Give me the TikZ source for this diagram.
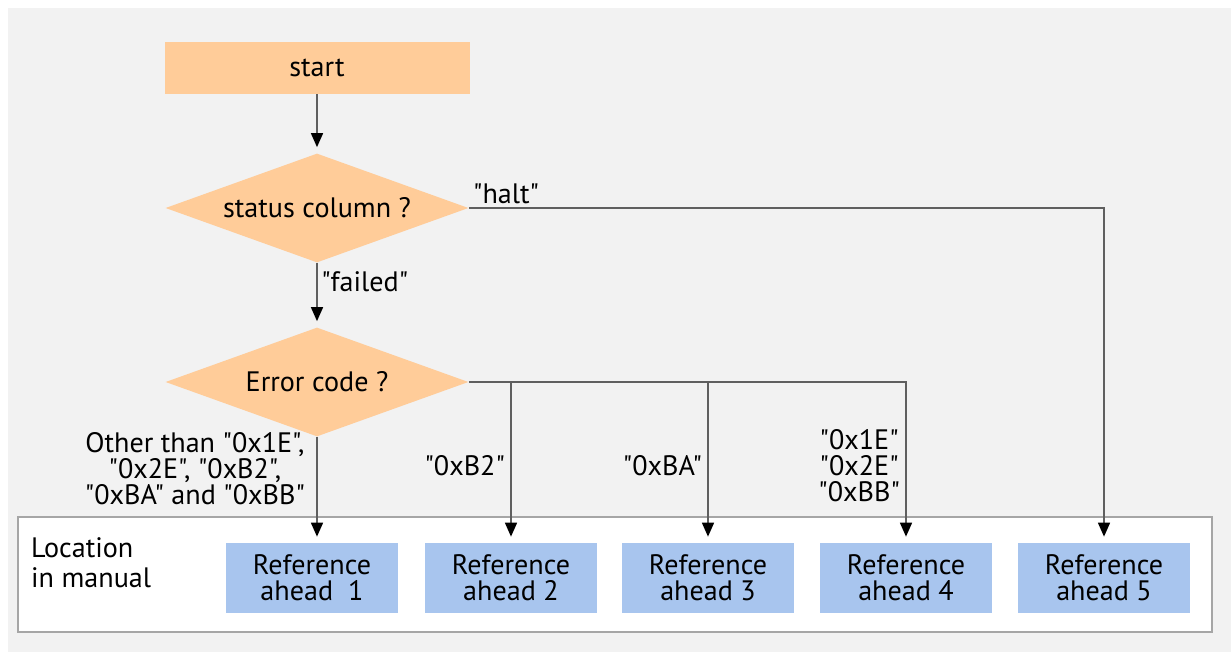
\documentclass[tikz,border=0pt]{standalone}
\usepackage{fontspec}
\setmainfont{PT Sans}[Ligatures=TeXOff]
\usepackage{tikz}
\usetikzlibrary{arrows.meta, positioning, calc, shapes}
\definecolor{flowpeach}{RGB}{255,204,153}
\definecolor{flowblue}{RGB}{168,197,238}
\definecolor{flowbg}{RGB}{242,242,242}
\definecolor{flowline}{RGB}{95,95,95}

\begin{document}
\begin{tikzpicture}[
        font=\fontsize{16}{17}\selectfont,
        startbox/.style={fill=flowpeach, minimum width=6.1cm, minimum height=1.04cm, inner sep=0pt},
        decision/.style={diamond, fill=flowpeach, minimum width=6.06cm, minimum height=2.18cm, aspect=2.78, inner sep=0pt},
        refbox/.style={fill=flowblue, minimum width=3.44cm, minimum height=1.4cm, inner sep=0pt, align=center, font=\fontsize{16}{15}\selectfont},
        codelabel/.style={align=center, inner sep=3pt, font=\fontsize{16}{15}\selectfont},
        flow/.style={draw=flowline, line width=0.9pt},
        flowarrow/.style={flow, -{Triangle[length=0.28cm, width=0.24cm, color=black]}, shorten >=0.12cm}
    ]
        % Sfondo e riquadro
        \useasboundingbox (0,0) rectangle (24.62,13.04);
        \fill[flowbg] (0.16,0) rectangle (24.62,12.88);
        \draw[fill=white, draw=black!35, line width=0.8pt] (0.36,0.4) rectangle (24.24,2.7);

        % Flusso
        \node[startbox] (start) at (6.34,11.68) {start};
        \node[decision] (status) at (6.34,8.88) {status column ?};
        \node[decision] (error) at (6.34,5.4) {Error code ?};

        % Riferimenti
        \node[anchor=west, align=left] (location) at (0.5,1.78) {Location\\in manual};
        \node[refbox] (ref1) at (6.24,1.48) {Reference\\ahead\ \ 1};
        \node[refbox] (ref2) at (10.22,1.48) {Reference\\ahead 2};
        \node[refbox] (ref3) at (14.16,1.48) {Reference\\ahead 3};
        \node[refbox] (ref4) at (18.12,1.48) {Reference\\ahead 4};
        \node[refbox] (ref5) at (22.08,1.48) {Reference\\ahead 5};

        % Frecce
        \draw[flowarrow] (start) -- (status);
        \draw[flowarrow] (status) -- (error) node[pos=0.3, right, inner sep=2pt] {"failed"};
        \draw[flowarrow] (status.east) -| (ref5.north) node[pos=0, above right, inner sep=2pt] {"halt"};

        \draw[flowarrow] (error.south) -- (error.south |- ref1.north)
            node[pos=0.3, left, codelabel, xshift=-0.12cm] {Other than "0x1E",\\"0x2E", "0xB2",\\"0xBA" and "0xBB"};
        \draw[flowarrow] (error.east) -| (ref4.north)
            node[pos=0.76, left, codelabel] {"0x1E"\\"0x2E"\\"0xBB"};
        \coordinate (j2) at (error.east -| ref2.north);
        \coordinate (j3) at (error.east -| ref3.north);
        \draw[flowarrow] (j2) -- (ref2.north) node[pos=0.52, left, codelabel] {"0xB2"};
        \draw[flowarrow] (j3) -- (ref3.north) node[pos=0.52, left, codelabel] {"0xBA"};
    \end{tikzpicture}
\end{document}
